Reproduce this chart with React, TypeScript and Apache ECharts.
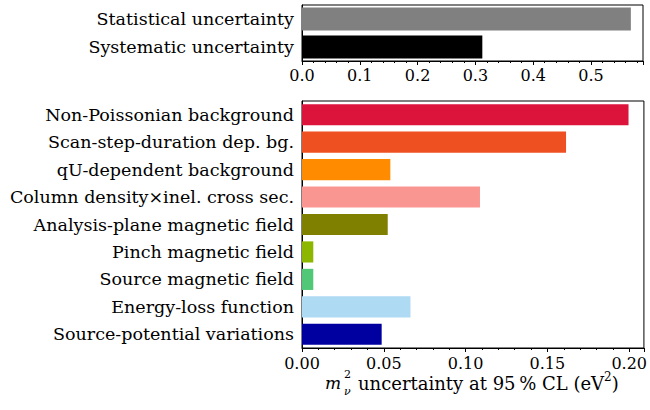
import React, { useEffect, useRef } from "react";
import * as echarts from "echarts";

const topCategories = ["Statistical uncertainty", "Systematic uncertainty"];
const topValues = [0.569, 0.312];
const topColors = ["#808080", "#000000"];

const categories = [
  "Non-Poissonian background",
  "Scan-step-duration dep. bg.",
  "qU-dependent background",
  "Column density\u00d7inel. cross sec.",
  "Analysis-plane magnetic field",
  "Pinch magnetic field",
  "Source magnetic field",
  "Energy-loss function",
  "Source-potential variations",
];
const values = [0.1996, 0.1614, 0.054, 0.1088, 0.0524, 0.0069, 0.0069, 0.0663, 0.0487];
const colors = [
  "#DC143C",
  "#EF5022",
  "#FF8C00",
  "#FA9692",
  "#808000",
  "#8DB600",
  "#50C878",
  "#AEDAF3",
  "#0000A0",
];

const FONT = "DejaVu Serif";
const FS = 17.5;
const TFS = 16;

export default function App() {
  const ref = useRef<HTMLDivElement>(null);
  useEffect(() => {
    if (!ref.current) return;
    const chart = echarts.init(ref.current, undefined, { renderer: "svg" });
    const axisLine = { show: true, lineStyle: { color: "#000", width: 1 } };
    const option: any = {
      animation: false,
      backgroundColor: "#fff",
      textStyle: { fontFamily: FONT, color: "#000" },
      grid: [
        { left: 302, top: 5, width: 341, height: 56, show: true, borderColor: "#000", borderWidth: 1 },
        { left: 302, top: 101, width: 345, height: 247, show: true, borderColor: "#000", borderWidth: 1 },
      ],
      xAxis: [
        {
          gridIndex: 0,
          type: "value",
          min: 0,
          max: 0.59,
          interval: 0.1,
          axisLine,
          splitLine: { show: false },
          axisTick: { show: true, inside: false, length: 4, lineStyle: { color: "#000" } },
          minorTick: { show: true, splitNumber: 5, length: 2, lineStyle: { color: "#000" } },
          axisLabel: {
            fontFamily: FONT,
            fontSize: TFS,
            color: "#000",
            margin: 6,
            showMaxLabel: false,
            formatter: (v: number) => v.toFixed(1),
          },
        },
        {
          gridIndex: 1,
          type: "value",
          min: 0,
          max: 0.209,
          interval: 0.05,
          axisLine,
          splitLine: { show: false },
          axisTick: { show: true, inside: false, length: 4, lineStyle: { color: "#000" } },
          minorTick: { show: true, splitNumber: 5, length: 2, lineStyle: { color: "#000" } },
          axisLabel: {
            fontFamily: FONT,
            fontSize: TFS,
            color: "#000",
            margin: 7,
            showMaxLabel: false,
            formatter: (v: number) => v.toFixed(2),
          },
        },
      ],
      yAxis: [
        {
          gridIndex: 0,
          type: "category",
          data: topCategories,
          inverse: true,
          axisLine,
          axisTick: { show: false },
          axisLabel: { fontFamily: FONT, fontSize: FS, color: "#000", margin: 8 },
        },
        {
          gridIndex: 1,
          type: "category",
          data: categories,
          inverse: true,
          axisLine,
          axisTick: { show: false },
          axisLabel: { fontFamily: FONT, fontSize: FS, color: "#000", margin: 8 },
        },
      ],
      series: [
        {
          type: "bar",
          xAxisIndex: 0,
          yAxisIndex: 0,
          barWidth: "82%",
          data: topValues.map((v, i) => ({ value: v, itemStyle: { color: topColors[i] } })),
        },
        {
          type: "bar",
          xAxisIndex: 1,
          yAxisIndex: 1,
          barWidth: "77%",
          data: values.map((v, i) => ({ value: v, itemStyle: { color: colors[i] } })),
        },
      ],
      graphic: [
        {
          type: "text",
          left: 325,
          top: 374,
          style: { text: "m", fontFamily: FONT, fontStyle: "italic", fontSize: 17, fill: "#000" },
        },
        {
          type: "text",
          left: 344,
          top: 369,
          style: { text: "2", fontFamily: FONT, fontSize: 11, fill: "#000" },
        },
        {
          type: "text",
          left: 344,
          top: 386,
          style: { text: "\u03bd", fontFamily: FONT, fontStyle: "italic", fontSize: 11, fill: "#000" },
        },
        {
          type: "text",
          left: 358,
          top: 371,
          style: {
            text: "uncertainty at 95\u2009% CL (eV{s|2})",
            fontFamily: FONT,
            fontSize: 18,
            fill: "#000",
            rich: {
              s: { fontFamily: FONT, fontSize: 12, verticalAlign: "top", lineHeight: 24 },
            },
            lineHeight: 24,
          },
        },
      ],
    };
    chart.setOption(option);
    return () => chart.dispose();
  }, []);
  return (
    <div
      ref={ref}
      style={{ position: "fixed", left: 0, top: 0, width: 650, height: 410 }}
    />
  );
}
